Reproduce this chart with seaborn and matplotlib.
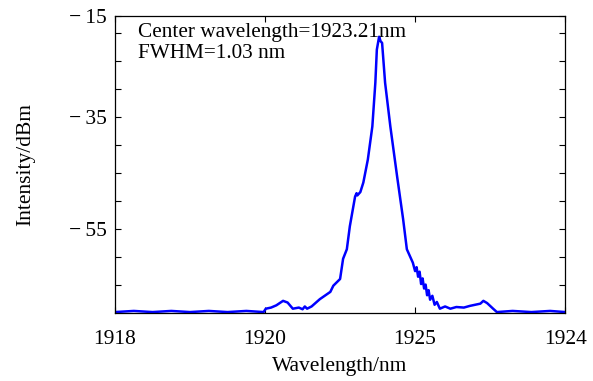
import matplotlib
matplotlib.use("Agg")
import matplotlib.pyplot as plt
import seaborn as sns

# spectrum (axis units as drawn)
wavelength = [1918.00, 1918.25, 1918.50, 1918.75, 1919.00, 1919.25, 1919.50, 1919.75, 1919.98,
              1920.01, 1920.08, 1920.15, 1920.24, 1920.30, 1920.37, 1920.45, 1920.50, 1920.53,
              1920.56, 1920.62, 1920.73, 1920.87, 1920.91, 1921.00, 1921.04, 1921.09, 1921.13,
              1921.20, 1921.22, 1921.23, 1921.27, 1921.31, 1921.37, 1921.43, 1921.47, 1921.49,
              1921.52, 1921.54, 1921.56, 1921.60, 1921.67, 1921.76, 1921.84, 1921.89, 1921.93,
              1921.97, 1922.00, 1922.02, 1922.04, 1922.06, 1922.08, 1922.10, 1922.12, 1922.14,
              1922.16, 1922.18, 1922.20, 1922.23, 1922.26, 1922.29, 1922.33, 1922.40, 1922.47,
              1922.55, 1922.65, 1922.73, 1922.80, 1922.87, 1922.91, 1922.96, 1923.04, 1923.09,
              1923.30, 1923.55, 1923.80, 1924.00]
intensity = [-69.8, -69.6, -69.8, -69.6, -69.8, -69.6, -69.8, -69.6, -69.8,
             -69.2, -69.0, -68.6, -67.8, -68.1, -69.2, -69.0, -69.3, -68.8,
             -69.2, -68.8, -67.5, -66.2, -65.1, -63.9, -60.3, -58.6, -54.5,
             -49.2, -48.6, -49.0, -48.4, -46.7, -42.6, -36.7, -28.9, -23.0,
             -20.7, -21.5, -21.8, -28.9, -36.7, -45.6, -53.2, -58.6, -59.8,
             -61.0, -62.5, -61.8, -63.5, -62.6, -64.8, -63.8, -65.6, -64.9,
             -66.8, -65.9, -67.6, -66.9, -68.5, -68.0, -69.2, -68.8, -69.2,
             -68.9, -69.0, -68.7, -68.5, -68.3, -67.8, -68.2, -69.2, -69.8,
             -69.6, -69.8, -69.6, -69.8]

xtick_pos = [1918, 1920, 1922, 1924]
xtick_labels = ["1918", "1920", "1925", "1924"]
ytick_pos = [-17, -35, -55]
ytick_labels = ["\u2212\u200915", "\u2212\u200935", "\u2212\u200955"]
ytick_minor = [-20, -25, -30, -40, -45, -50, -60, -65]

sns.set_style("ticks")
plt.rcParams["font.family"] = ["Liberation Serif", "DejaVu Serif"]
plt.rcParams.update({"text.color": "black", "axes.labelcolor": "black",
                     "xtick.color": "black", "ytick.color": "black"})

fig = plt.figure(figsize=(5.93, 3.81), dpi=100)
ax = fig.add_axes([0.194, 0.178, 0.759, 0.780])

sns.lineplot(x=wavelength, y=intensity, ax=ax, color="#0000ff", linewidth=1.8)

ax.set_xlim(1918, 1924)
ax.set_ylim(-70, -17)
ax.set_xticks(xtick_pos)
ax.set_xticklabels(xtick_labels)
ax.set_yticks(ytick_pos)
ax.set_yticklabels(ytick_labels)
ax.set_yticks(ytick_minor, minor=True)
ax.tick_params(axis="both", which="both", direction="in", top=True, right=True,
               length=4, width=0.8, color="black", labelcolor="black", labelsize=15.5)
ax.tick_params(axis="y", which="major", pad=6)
ax.tick_params(axis="x", which="major", pad=12)

for s in ax.spines.values():
    s.set_linewidth(0.9)
    s.set_color("black")

ax.set_xlabel("Wavelength/nm", fontsize=15.5, labelpad=6)
ax.set_ylabel("Intensity/dBm", fontsize=15.5, labelpad=24)

ax.text(0.05, 0.975, "Center wavelength=1923.21nm\nFWHM=1.03 nm", transform=ax.transAxes,
        ha="left", va="top", fontsize=15.3, linespacing=1.12, color="black")

fig.savefig("out.png", dpi=100)
